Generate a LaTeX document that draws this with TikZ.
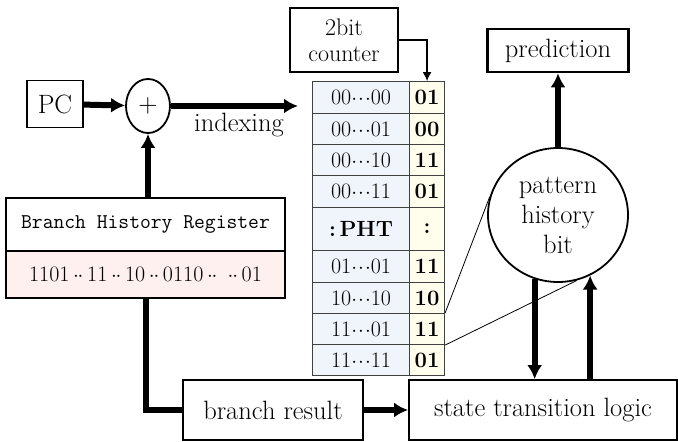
\documentclass[tikz,border=0pt]{standalone}
\usepackage{tikz}
\usetikzlibrary{arrows.meta}
\usetikzlibrary{shapes.geometric}

\definecolor{keyblue}{HTML}{F0F5FC}
\definecolor{ctryellow}{HTML}{FFFDEC}
\definecolor{bhrpink}{HTML}{FDF0EF}
\newcommand{\cdd}{\ensuremath{\cdot\mkern-3mu\cdot\mkern-3mu\cdot}}
\newcommand{\dd}{\ensuremath{\cdot\mkern-1mu\cdot}}
\newcommand{\bigtext}{\fontsize{26.5}{30}\selectfont}
\newcommand{\celltext}{\fontsize{22}{24}\selectfont}

\begin{document}
\begin{tikzpicture}[x=1pt, y=-1pt,
  every node/.style = {align=center, inner sep=0pt},
  box/.style = {draw, line width=1.8pt, font=\bigtext},
  cell/.style = {draw=black!75, line width=1.1pt, anchor=north west, font=\celltext},
  fat/.style = {line width=6pt},
  fatarrow/.style = {fat, -{Latex[length=14pt,width=15pt]}},
  zoomline/.style = {line width=0.8pt}]
  \useasboundingbox (0,0) rectangle (678,442);

  % PC + history -> index into the PHT
  \node[box, minimum width=56, minimum height=47] (pc) at (55,104) {PC};
  \node[box, ellipse, minimum width=44, minimum height=54] (plus) at (148,106) {+};
  \coordinate (idx) at (298,106);
  \node[font=\bigtext, anchor=base] (indexing) at (239,131) {indexing};
  \node[box, font=\ttfamily\fontsize{21}{24}\selectfont,
    minimum width=279, minimum height=53] (bhr) at (145.5,224.5) {Branch History Register};
  \node[box, fill=bhrpink, font=\celltext, minimum width=279, minimum height=47] (bits)
    at (145.5,274.5) {1101\,\dd\,11\,\dd\,10\,\dd\,0110\,\dd\ \,\dd\,01};

  % pattern history table
  \foreach \i/\y/\h/\key/\val in {
    1/81/32/00\cdd00/01, 2/113/31/00\cdd01/00,
    3/144/31/00\cdd10/11, 4/175/32/00\cdd11/01,
    5/207/43/{\textbf{:\,PHT}}/{:},
    6/250/32/01\cdd01/11, 7/282/31/10\cdd10/10,
    8/313/31/11\cdd01/11, 9/344/31/11\cdd11/01} {
    \node[cell, fill=keyblue, minimum width=97, minimum height=\h] (k\i) at (312,\y) {\key};
    \node[cell, fill=ctryellow, minimum width=35, minimum height=\h,
      font=\celltext\bfseries] (c\i) at (409,\y) {\val};
  }
  \node[box, font=\fontsize{24}{26}\selectfont, minimum width=108, minimum height=64]
    (counter) at (344,40) {2bit\\counter};

  % prediction side
  \node[box, line width=2.5pt, minimum width=141, minimum height=43] (pred) at (558,50.5) {prediction};
  \node[box, ellipse, minimum width=140, minimum height=134] (pattern) at (558,215)
    {pattern\\history\\bit};
  \node[box, minimum width=180, minimum height=60] (result) at (273,410) {branch result};
  \node[box, minimum width=268, minimum height=60] (logic) at (543,410) {state transition logic};

  \draw[fatarrow] (pc) -- (plus);
  \draw[fatarrow] (plus) -- (idx);
  \draw[fatarrow] (bhr.north -| plus) -- (plus);
  \draw[fat] (bits) |- (result);
  \draw[fatarrow] (result) -- (logic);
  \draw[fatarrow] (pattern) -- (pred);
  \draw[fatarrow] (pattern.250) -- (pattern.250 |- logic.north);
  \draw[fatarrow] (pattern.298 |- logic.north) -- (pattern.298);
  \draw[line width=1.2pt, -{Latex[length=9pt,width=9pt]}] (counter.east) -| (c1.north);
  \draw[zoomline] (c8.north east) -- (pattern.165);
  \draw[zoomline] (c8.south east) -- (pattern.286);
\end{tikzpicture}
\end{document}
